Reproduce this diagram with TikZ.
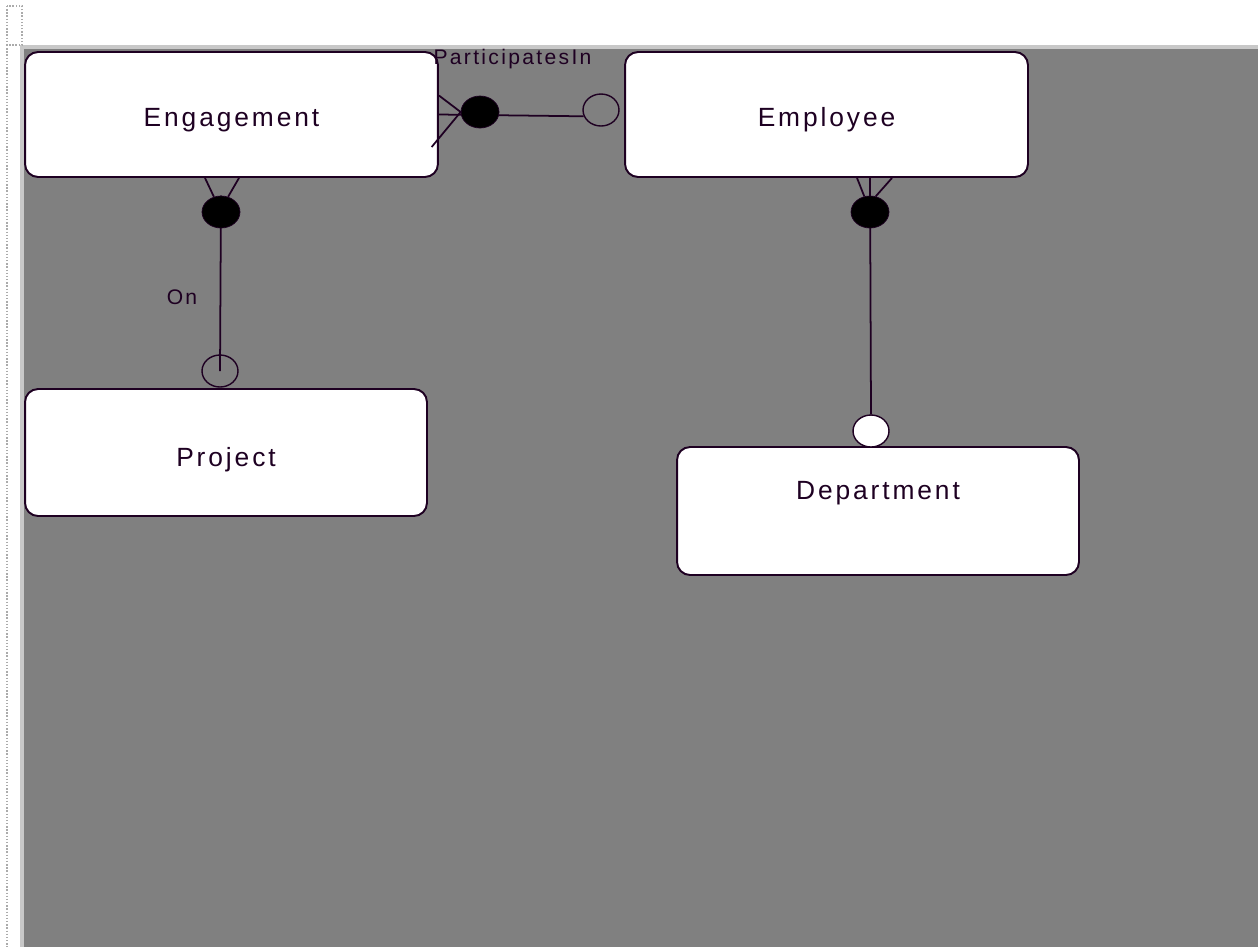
\documentclass[tikz,border=0pt]{standalone}
\usepackage{fontspec}
\usetikzlibrary{shapes.geometric}
\newfontfamily\erfont[LetterSpace=11]{Liberation Sans}
\definecolor{erline}{RGB}{30,0,34}
\definecolor{canvas}{RGB}{128,128,128}
\definecolor{rim}{RGB}{200,200,200}
\pgfdeclarelayer{back}
\pgfdeclarelayer{links}
\pgfsetlayers{back,links,main}

\begin{document}
\begin{tikzpicture}[x=0.02cm, y=-0.02cm,
	entity/.style={draw=erline, line width=1.1pt, fill=white, rounded corners=0.26cm, inner sep=0pt, font=\erfont\fontsize{15}{17}\selectfont, text=erline},
	fullend/.style={ellipse, draw=erline, fill=black, inner sep=0pt, minimum width=0.76cm, minimum height=0.64cm},
	openend/.style={ellipse, draw=erline, line width=0.8pt, inner sep=0pt, minimum width=0.72cm, minimum height=0.64cm},
	link/.style={draw=erline, line width=1pt},
	rolename/.style={font=\erfont\fontsize{12}{14}\selectfont, text=erline, anchor=base, inner sep=0pt}]
	
	% window and canvas
	\begin{pgfonlayer}{back}
	\fill[white] (0,0) rectangle (1260,947);
	\fill[rim] (20,45) rectangle (1258,947);
	\fill[canvas] (24,49) rectangle (1258,947);
	\draw[rim!60!gray, densely dotted, line width=0.8pt] (7,6) rectangle (22,45);
	\draw[rim!60!gray, densely dotted, line width=0.8pt] (7,45) -- (7,947);
	\end{pgfonlayer}
	
	% entities
	\node[entity, minimum width=8.26cm, minimum height=2.5cm, text height=0.86cm, text depth=0.4cm] (engagement) at (231.5,114.5) {Engagement};
	\node[entity, minimum width=8.06cm, minimum height=2.5cm, text height=0.86cm, text depth=0.4cm] (employee) at (826.5,114.5) {Employee};
	\node[entity, minimum width=8.04cm, minimum height=2.54cm, text height=0.94cm, text depth=0.4cm] (project) at (226,452.5) {Project};
	\node[entity, minimum width=8.04cm, minimum height=2.56cm, text height=0.4cm, text depth=0.88cm] (department) at (878,511) {Department};
	
	% relationship ends
	\node[fullend] (pmany) at (480,112) {};
	\node[openend] (pone) at (601,110) {};
	\node[fullend] (omany) at (221,212) {};
	\node[openend] (oone) at (220,371) {};
	\node[fullend] (wmany) at (870,212) {};
	\node[openend, fill=white] (wone) at (871,431) {};
	
	\begin{pgfonlayer}{links}
	% ParticipatesIn
	\draw[link] (engagement.east) -- (pone.200);
	% On
	\draw[link] (omany.north) -- (oone.center);
	% works in
	\draw[link] (employee.south -| wmany) -- (wone.north);
	\end{pgfonlayer}
	
	% crow's feet
	\draw[link] (engagement.east) ++(0,-19) -- (pmany.west) -- ++(-29,35);
	\draw[link] (engagement.south) ++(-26.5,0) -- (omany.115);
	\draw[link] (engagement.south) ++(7.5,0) -- (omany.65);
	\draw[link] (employee.south) ++(30.5,0) -- (wmany.110);
	\draw[link] (employee.south) ++(65.5,0) -- (wmany.70);
	
	\node[rolename] (participates) at (512.5,64) {ParticipatesIn};
	\node[rolename] (on) at (182,304) {On};
	
\end{tikzpicture}
\end{document}
